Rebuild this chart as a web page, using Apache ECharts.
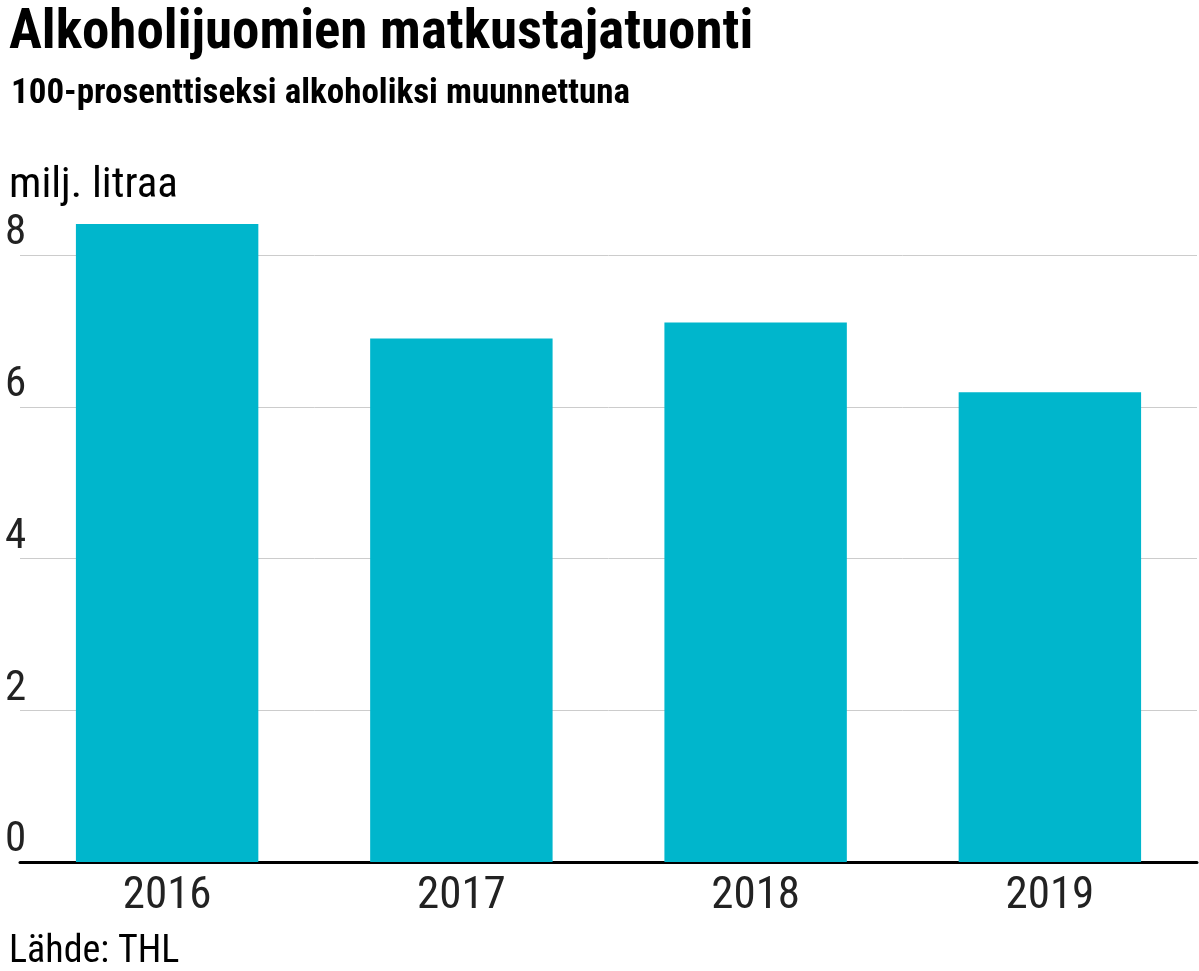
<!DOCTYPE html>
<html><head><meta charset="utf-8">
<script src="https://cdn.jsdelivr.net/npm/echarts@6/dist/echarts.min.js"></script>
<style>html,body{margin:0;padding:0;background:#fff}#c{width:1199px;height:971px}</style>
</head><body><div id="c"></div>
<script>
const categories = ['2016','2017','2018','2019'];
const values = [8.41, 6.90, 7.11, 6.19];
const yTicks = [0, 2, 4, 6, 8];
const F = "'Roboto Condensed','Liberation Sans Narrow','Roboto',sans-serif";
const chart = echarts.init(document.getElementById('c'));
chart.setOption({
  animation:false,
  title:[
    {text:'Alkoholijuomien matkustajatuonti',left:4,top:2,textStyle:{fontFamily:F,fontSize:55,fontWeight:'bold',color:'#000'}},
    {text:'100-prosenttiseksi alkoholiksi muunnettuna',left:6,top:72,textStyle:{fontFamily:F,fontSize:35,fontWeight:'bold',color:'#000'}},
    {text:'milj. litraa',left:4,top:160,textStyle:{fontFamily:F,fontSize:43,fontWeight:'normal',color:'#000'}},
    {text:'Lähde: THL',left:4,top:928,textStyle:{fontFamily:F,fontSize:38,fontWeight:'normal',color:'#000'}}
  ],
  grid:{left:20,right:2,top:255,bottom:109},
  xAxis:{type:'category',data:categories,
    axisLine:{lineStyle:{color:'#000',width:3}},axisTick:{show:false},
    axisLabel:{fontFamily:F,fontSize:45,color:'#222',margin:12}},
  yAxis:{type:'value',min:0,max:8,interval:2,
    axisLine:{show:false},axisTick:{show:false},
    splitLine:{lineStyle:{color:'#ccc',width:1}},
    axisLabel:{inside:true,margin:-15,verticalAlign:'bottom',align:'left',fontFamily:F,fontSize:43,color:'#222',
      formatter:v=>yTicks.includes(v)?String(v):''}},
  series:[{type:'bar',data:values,clip:false,barCategoryGap:'38%',itemStyle:{color:'#00b6cc'}}]
});
</script></body></html>
